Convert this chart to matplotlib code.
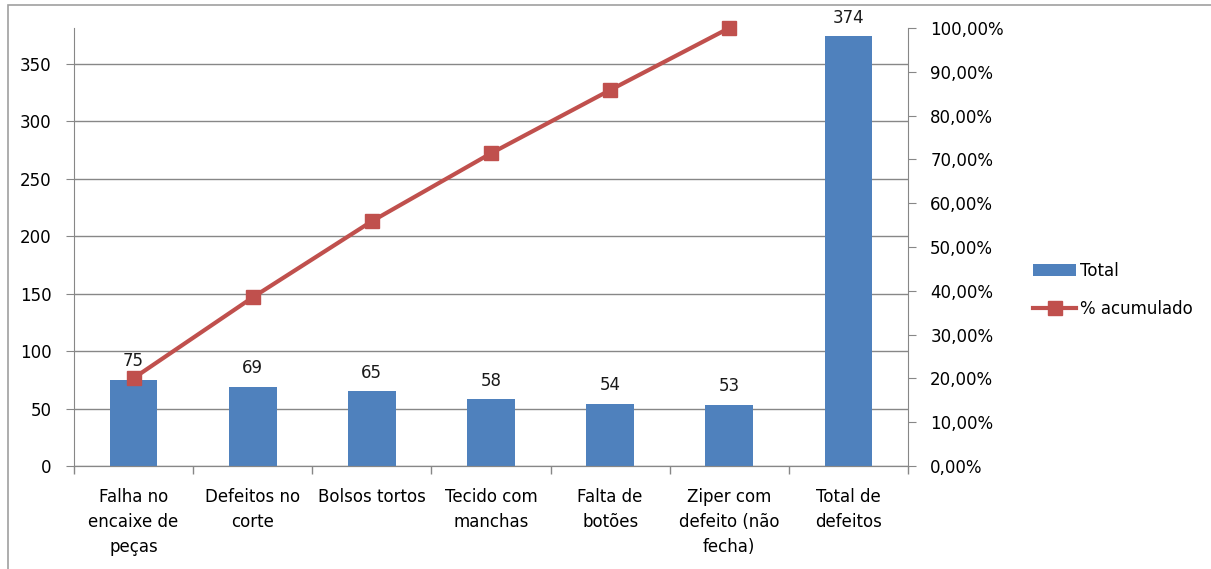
import matplotlib
matplotlib.use("Agg")
import matplotlib.pyplot as plt
from matplotlib.patches import Rectangle
from matplotlib.ticker import FuncFormatter
import numpy as np

# -----------------------------------------
# Data
# -----------------------------------------
categories = ["Falha no\nencaixe de\npeças", "Defeitos no\ncorte", "Bolsos tortos",
              "Tecido com\nmanchas", "Falta de\nbotões", "Ziper com\ndefeito (não\nfecha)",
              "Total de\ndefeitos"]
totals = [75, 69, 65, 58, 54, 53, 374]
pct_acumulado = [20.05, 38.50, 55.88, 71.39, 85.83, 100.00]

bar_color = "#4F81BD"
line_color = "#C0504D"
grid_color = "#878787"
font_size = 12

# -----------------------------------------
# Figure
# -----------------------------------------
fig = plt.figure(figsize=(12.11, 5.69), dpi=100)
ax = fig.add_axes([74 / 1211, 1 - 466 / 569, (908 - 74) / 1211, (466 - 28) / 569])
ax2 = ax.twinx()

x = np.arange(len(categories))
bars = ax.bar(x, totals, width=0.4, color=bar_color, zorder=3, label="Total")
for xi, v in zip(x, totals):
    ax.annotate(str(v), (xi, v), xytext=(0, 7), textcoords="offset points",
                ha="center", va="bottom", fontsize=font_size, color="#1a1a1a")

line, = ax2.plot(x[:len(pct_acumulado)], pct_acumulado, color=line_color, lw=3,
                 marker="s", markersize=10, zorder=4, clip_on=False, label="% acumulado")

ax.set_xlim(-0.5, len(categories) - 0.5)
ax.set_ylim(0, 381.3)
ax2.set_ylim(0, 100)
ax.set_yticks(np.arange(0, 351, 50))
ax2.set_yticks(np.arange(0, 101, 10))
ax2.yaxis.set_major_formatter(FuncFormatter(lambda v, p: f"{v:.2f}%".replace(".", ",")))

ax.set_xticks(x)
ax.set_xticklabels(categories, fontsize=font_size, linespacing=1.5)
ax.set_xticks(np.arange(-0.5, len(categories), 1), minor=True)
ax.tick_params(axis="x", which="major", length=0, pad=16)
ax.tick_params(axis="x", which="minor", length=6, color=grid_color, width=1)
ax.tick_params(axis="y", length=6, color=grid_color, labelsize=font_size, pad=10)
ax2.tick_params(axis="y", length=6, color=grid_color, labelsize=font_size, pad=10)

ax.grid(axis="y", color=grid_color, lw=1, zorder=0)
ax.set_axisbelow(True)
for a in (ax, ax2):
    for side in ("top", "right", "left"):
        a.spines[side].set_visible(False)
    a.spines["bottom"].set_color(grid_color)
ax.spines["left"].set_visible(True)
ax.spines["left"].set_color(grid_color)
ax2.spines["right"].set_visible(True)
ax2.spines["right"].set_color(grid_color)

fig.legend([bars, line], ["Total", "% acumulado"], loc="center left",
           bbox_to_anchor=(1018 / 1211, 1 - 290 / 569), frameon=False,
           fontsize=font_size, handlelength=2.6, labelspacing=1.2, handletextpad=0.2)

# chart border
fig.patches.append(Rectangle((8 / 1211, -0.1), 1.1, 1.1 - 5 / 569, transform=fig.transFigure,
                             fill=False, edgecolor="#a0a0a0", lw=1.2))

fig.savefig("out.png", dpi=100)
